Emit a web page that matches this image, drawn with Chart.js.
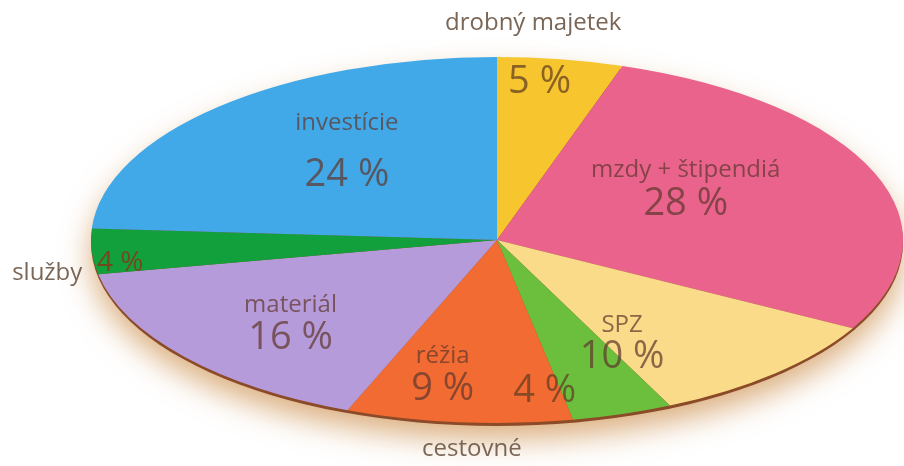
<!DOCTYPE html>
<html>
<head>
<meta charset="utf-8">
<script src="https://cdn.jsdelivr.net/npm/chart.js@4/dist/chart.umd.min.js"></script>
<style>
  html, body { margin: 0; padding: 0; background: #fff; }
  #chart { display: block; }
</style>
</head>
<body>
<canvas id="chart" width="904" height="466"></canvas>
<script>
// rozpočet - podiely v %, v smere hodinových ručičiek od vrchu
const categories = ['drobný majetek', 'mzdy + štipendiá', 'SPZ', 'cestovné', 'réžia', 'materiál', 'služby', 'investície'];
const shares = [5, 28, 10, 4, 9, 16, 4, 24];
const sliceColors = ['#F7C52E', '#E9638C', '#FADB8A', '#6CBF3C', '#F26B32', '#B69BDA', '#12A03C', '#42A9E8'];

// kam dať popisky: [fx, fy] ako podiel polomeru pozdĺž stredového uhla výseku
// pct = (názov +) % vo výseku, outside = názov mimo elipsy, gap = odstup riadkov
const labelPlace = [
  { pct: [0.67, 0.875], outside: [0.57, 1.2] },
  { pct: [0.5, 0.79], gap: 34 },
  { pct: [0.45, 0.76], gap: 32 },
  { pct: [0.38, 0.87], outside: [-0.2, 1.2] },
  { pct: [1.42, 0.73], gap: 33 },
  { pct: [0.66, 0.7], gap: 33 },
  { pct: [0.93, 2.0], outside: [1.11, 2.9], small: true },
  { pct: [0.54, 0.68], gap: 52 },
];

const ELLIPSE_X = 406 / 183; // horizontálne roztiahnutie kruhu na elipsu

function arcGeom(chart) {
  const arcs = chart.getDatasetMeta(0).data;
  const a0 = arcs[0];
  return { arcs, cx: a0.x, cy: a0.y, r: a0.outerRadius };
}

const ellipsePlugin = {
  id: 'ellipse',
  beforeDatasetsDraw(chart) {
    const { ctx } = chart;
    const { cx, cy, r } = arcGeom(chart);
    ctx.save();
    ctx.translate(cx, cy);
    ctx.scale(ELLIPSE_X, 1);
    ctx.translate(-cx, -cy);
    // okraj + tieň pod elipsou
    ctx.save();
    ctx.shadowColor = 'rgba(195,120,40,0.6)';
    ctx.shadowBlur = 30;
    ctx.shadowOffsetY = 13;
    ctx.beginPath();
    ctx.arc(cx, cy + 3, r, 0, Math.PI * 2);
    ctx.fillStyle = '#8c4b28';
    ctx.fill();
    ctx.restore();
  },
  afterDatasetsDraw(chart) {
    const { ctx } = chart;
    ctx.restore();
    const { arcs, cx, cy, r } = arcGeom(chart);
    ctx.save();
    ctx.textAlign = 'center';
    ctx.textBaseline = 'middle';
    arcs.forEach((arc, i) => {
      const mid = (arc.startAngle + arc.endAngle) / 2;
      const place = labelPlace[i];
      const pos = (f) => [cx + Math.cos(mid) * r * f[0] * ELLIPSE_X, cy + Math.sin(mid) * r * f[1]];
      const [px, py] = pos(place.pct);
      const pctText = shares[i] + ' %';
      if (place.outside) {
        const [ox, oy] = pos(place.outside);
        ctx.fillStyle = '#7a6656';
        ctx.font = '24px "Open Sans", sans-serif';
        ctx.fillText(categories[i], ox, oy);
        if (place.small) {
          ctx.fillStyle = 'rgba(140,50,20,0.8)';
          ctx.font = '28px "Open Sans", sans-serif';
        } else {
          ctx.fillStyle = 'rgba(95,60,35,0.72)';
          ctx.font = '38px "Open Sans", sans-serif';
        }
        ctx.fillText(pctText, px, py);
      } else {
        const half = place.gap / 2;
        ctx.fillStyle = 'rgba(95,55,45,0.72)';
        ctx.font = '24px "Open Sans", sans-serif';
        ctx.fillText(categories[i], px, py - half);
        ctx.font = '38px "Open Sans", sans-serif';
        ctx.fillText(pctText, px, py + half);
      }
    });
    ctx.restore();
  },
};

new Chart(document.getElementById('chart'), {
  type: 'pie',
  data: {
    labels: categories,
    datasets: [{
      data: shares,
      backgroundColor: sliceColors,
      borderWidth: 0,
    }],
  },
  options: {
    responsive: false,
    devicePixelRatio: 1,
    animation: false,
    layout: { padding: { left: 314, right: 224, top: 57, bottom: 43 } },
    plugins: { legend: { display: false }, tooltip: { enabled: false } },
  },
  plugins: [ellipsePlugin],
});
</script>
</body>
</html>
